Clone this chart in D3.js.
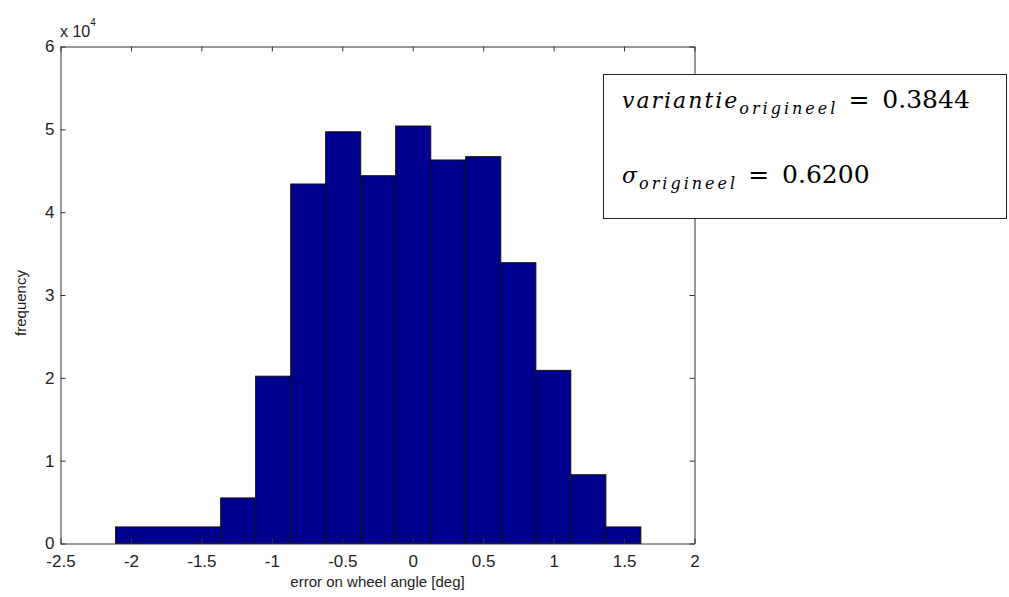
<!DOCTYPE html>
<html>
<head>
<meta charset="utf-8">
<script src="https://cdn.jsdelivr.net/npm/d3@7"></script>
<style>
  body { margin: 0; background: #fff; }
  svg { display: block; }
  .tick text { font-family: "Liberation Sans", Arial, sans-serif; font-size: 17px; fill: #222; }
</style>
</head>
<body>
<div id="chart"></div>
<script>
// histogram bins (left/right edges) and counts
var binEdges = [-2.109, -1.363, -1.115, -0.866, -0.618, -0.369, -0.121, 0.128, 0.376, 0.625, 0.874, 1.122, 1.371, 1.619];
var counts = [2000, 5500, 20200, 43400, 49700, 44400, 50400, 46300, 46700, 33900, 20900, 8300, 2000];
var xTicks = [-2.5, -2, -1.5, -1, -0.5, 0, 0.5, 1, 1.5, 2];
var yTicks = [0, 10000, 20000, 30000, 40000, 50000, 60000];
var statLines = [
    { name: "variantie", sub: "origineel", value: "0.3844" },
    { name: "\u03c3", sub: "origineel", value: "0.6200" }
];

function draw() {
    var data = counts.map(function (c, i) {
        return { x0: binEdges[i], x1: binEdges[i + 1], value: c };
    });

    var W = 1009, H = 597;
    var m = { left: 60.5, right: 694.5, top: 46.5, bottom: 543.5 };

    var svg = d3.select("#chart").append("svg")
        .attr("width", W)
        .attr("height", H);

    svg.append("rect").attr("width", W).attr("height", H).attr("fill", "#fff");

    var x = d3.scaleLinear().domain([-2.5, 2]).range([m.left, m.right]);
    var y = d3.scaleLinear().domain([0, 60000]).range([m.bottom, m.top]);

    // bars
    svg.selectAll("rect.bar")
        .data(data)
        .enter()
        .append("rect")
        .attr("class", "bar")
        .attr("x", function (d) { return x(d.x0); })
        .attr("y", function (d) { return y(d.value); })
        .attr("width", function (d) { return x(d.x1) - x(d.x0); })
        .attr("height", function (d) { return y(0) - y(d.value); })
        .attr("fill", "#00008f")
        .attr("stroke", "#111")
        .attr("stroke-width", 1);

    // axes, ticks pointing inward on all four sides
    var fmtX = function (d) { return String(d); };
    var fmtY = function (d) { return String(d / 10000); };

    var xb = svg.append("g")
        .attr("transform", "translate(0," + m.bottom + ")")
        .call(d3.axisBottom(x).tickValues(xTicks).tickSizeInner(-5).tickSizeOuter(0).tickPadding(11).tickFormat(fmtX));
    var xt = svg.append("g")
        .attr("transform", "translate(0," + m.top + ")")
        .call(d3.axisTop(x).tickValues(xTicks).tickSizeInner(-5).tickSizeOuter(0).tickFormat(""));
    var yl = svg.append("g")
        .attr("transform", "translate(" + m.left + ",0)")
        .call(d3.axisLeft(y).tickValues(yTicks).tickSizeInner(-5).tickSizeOuter(0).tickPadding(6).tickFormat(fmtY));
    var yr = svg.append("g")
        .attr("transform", "translate(" + m.right + ",0)")
        .call(d3.axisRight(y).tickValues(yTicks).tickSizeInner(-5).tickSizeOuter(0).tickFormat(""));

    [xb, xt, yl, yr].forEach(function (g) {
        g.selectAll("path.domain").attr("stroke", "#333");
        g.selectAll(".tick line").attr("stroke", "#333");
    });

    // x10^4 exponent label
    var ex = svg.append("text")
        .attr("x", 60)
        .attr("y", 37)
        .style("font-family", "Liberation Sans, Arial, sans-serif")
        .style("font-size", "16px")
        .style("fill", "#222");
    ex.append("tspan").text("x 10");
    ex.append("tspan").attr("dy", -11).style("font-size", "10px").text("4");

    // axis labels
    svg.append("text")
        .attr("x", (m.left + m.right) / 2)
        .attr("y", 587)
        .attr("text-anchor", "middle")
        .style("font-family", "Liberation Sans, Arial, sans-serif")
        .style("font-size", "15px")
        .style("fill", "#222")
        .text("error on wheel angle [deg]");

    svg.append("text")
        .attr("transform", "translate(26," + ((m.top + m.bottom) / 2 + 8) + ") rotate(-90)")
        .attr("text-anchor", "middle")
        .style("font-family", "Liberation Sans, Arial, sans-serif")
        .style("font-size", "15px")
        .style("fill", "#222")
        .text("frequency");

    // statistics box
    svg.append("rect")
        .attr("x", 603.5)
        .attr("y", 74.5)
        .attr("width", 403)
        .attr("height", 144)
        .attr("fill", "#fff")
        .attr("stroke", "#222")
        .attr("stroke-width", 1);

    var lineY = [108, 183];
    statLines.forEach(function (s, i) {
        var t = svg.append("text")
            .attr("x", 622)
            .attr("y", lineY[i])
            .style("font-family", "DejaVu Serif, Liberation Serif, serif")
            .style("fill", "#000");
        t.append("tspan")
            .style("font-style", "italic")
            .style("font-size", "22px")
            .style("letter-spacing", "2px")
            .text(s.name);
        t.append("tspan")
            .attr("dy", 6)
            .style("font-style", "italic")
            .style("font-size", "16px")
            .style("letter-spacing", "3px")
            .text(s.sub);
        // "= value" after the subscript with a gap
        var endX = 622 + t.node().getComputedTextLength();
        var tail = svg.append("text")
            .attr("x", endX + 10)
            .attr("y", lineY[i])
            .style("font-family", "DejaVu Serif, Liberation Serif, serif")
            .style("font-size", "25px")
            .style("fill", "#000");
        tail.append("tspan").text("=");
        tail.append("tspan").attr("dx", 13).text(s.value);
    });
}

window.onload = function () {
    draw();
};
</script>
</body>
</html>
